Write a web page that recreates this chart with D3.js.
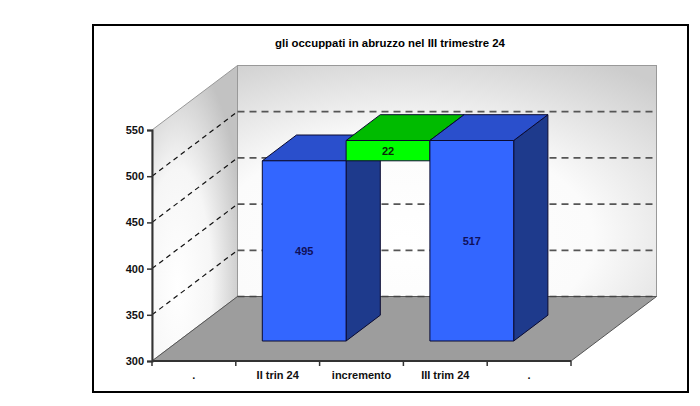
<!DOCTYPE html>
<html>
<head>
<meta charset="utf-8">
<script src="https://cdn.jsdelivr.net/npm/d3@7"></script>
<style>
  body { margin: 0; background: #fff; }
  text { font-family: "Liberation Sans", Arial, sans-serif; font-weight: bold; }
</style>
</head>
<body>
<div id="chart"></div>
<script>
// data
var title = "gli occuppati in abruzzo nel III trimestre 24";
var categories = [".", "II trin 24", "incremento", "III trim 24", "."];
var occupati = [null, 495, null, 517, null];      // blue bars
var baseHidden = [null, null, 495, null, null];   // invisible base of the floating bar
var incremento = [null, null, 22, null, null];    // green floating bar
var yTicks = [300, 350, 400, 450, 500, 550];
var gridValues = [350, 400, 450, 500];

var W = 700, H = 406;

// 3d projection: depth 0 = front plane, 1 = back wall
var DX = 85.5, DY = -64.5;
var barFront = 0.31, barBack = 0.71;

var svg = d3.select('#chart').append('svg')
    .attr('width', W)
    .attr('height', H);

var x = d3.scaleBand().domain(d3.range(categories.length)).range([152, 571]).padding(0);
var y = d3.scaleLinear().domain([300, 550]).range([361, 130]);

function p(px, py, d) {
    return [px + d * DX, py + d * DY];
}
function poly(pts) {
    return pts.map(function(q) { return q[0].toFixed(1) + ',' + q[1].toFixed(1); }).join(' ');
}

// gradients
var defs = svg.append('defs');
var bw = defs.append('radialGradient').attr('id', 'backWall')
    .attr('cx', '40%').attr('cy', '75%').attr('r', '90%');
bw.append('stop').attr('offset', '0%').attr('stop-color', '#ffffff');
bw.append('stop').attr('offset', '50%').attr('stop-color', '#fbfbfb');
bw.append('stop').attr('offset', '100%').attr('stop-color', '#cccccc');
var lw = defs.append('radialGradient').attr('id', 'leftWall')
    .attr('cx', '30%').attr('cy', '75%').attr('r', '80%');
lw.append('stop').attr('offset', '0%').attr('stop-color', '#ffffff');
lw.append('stop').attr('offset', '50%').attr('stop-color', '#f6f6f6');
lw.append('stop').attr('offset', '100%').attr('stop-color', '#c2c2c2');

// frame
svg.append('rect')
    .attr('x', 93).attr('y', 25).attr('width', 595).attr('height', 367)
    .attr('fill', '#fff').attr('stroke', '#000').attr('stroke-width', 2);

svg.append('text')
    .attr('x', 390).attr('y', 47)
    .attr('text-anchor', 'middle')
    .attr('font-size', 11.4)
    .text(title);

var x0 = x.range()[0], x1 = x.range()[1];
var yMin = y(300), yMax = y(550);

// back wall
var bTL = p(x0, yMax, 1), bBR = p(x1, yMin, 1);
svg.append('rect')
    .attr('x', bTL[0]).attr('y', bTL[1])
    .attr('width', bBR[0] - bTL[0]).attr('height', bBR[1] - bTL[1])
    .attr('fill', 'url(#backWall)')
    .attr('stroke', '#999').attr('stroke-width', 1);

// left wall
svg.append('polygon')
    .attr('points', poly([p(x0, yMin, 0), p(x0, yMax, 0), p(x0, yMax, 1), p(x0, yMin, 1)]))
    .attr('fill', 'url(#leftWall)')
    .attr('stroke', '#999').attr('stroke-width', 1);

// floor
svg.append('polygon')
    .attr('points', poly([p(x0, yMin, 0), p(x1, yMin, 0), p(x1, yMin, 1), p(x0, yMin, 1)]))
    .attr('fill', '#9d9d9d')
    .attr('stroke', '#555').attr('stroke-width', 1);

// gridlines on back wall
svg.append('g').selectAll('line')
    .data(gridValues.concat([550]))
    .enter().append('line')
    .attr('x1', x0 + DX).attr('x2', x1 + DX)
    .attr('y1', function(d) { return y(d) + DY; })
    .attr('y2', function(d) { return y(d) + DY; })
    .attr('stroke', function(d) { return d === 550 ? '#999' : '#555'; })
    .attr('stroke-width', function(d) { return d === 550 ? 1 : 1.8; })
    .attr('stroke-dasharray', '7,5');

svg.append('line')
    .attr('x1', x0 + DX).attr('x2', x1 + DX)
    .attr('y1', yMin + DY).attr('y2', yMin + DY)
    .attr('stroke', '#444').attr('stroke-width', 1.5)
    .attr('stroke-dasharray', '7,5');

// gridlines on left wall
svg.append('g').selectAll('line')
    .data(gridValues)
    .enter().append('line')
    .attr('x1', x0).attr('x2', x0 + DX)
    .attr('y1', function(d) { return y(d); })
    .attr('y2', function(d) { return y(d) + DY; })
    .attr('stroke', '#111').attr('stroke-width', 1.2)
    .attr('stroke-dasharray', '5,4');

// bars
function drawBox(g, i, v0, v1, cols) {
    var L = x(i), R = x(i) + x.bandwidth();
    var T = y(v1), B = y(v0);
    var front = [p(L, T, barFront), p(R, T, barFront), p(R, B, barFront), p(L, B, barFront)];
    var side = [p(R, T, barFront), p(R, T, barBack), p(R, B, barBack), p(R, B, barFront)];
    var top = [p(L, T, barFront), p(L, T, barBack), p(R, T, barBack), p(R, T, barFront)];
    g.append('polygon').attr('points', poly(side)).attr('fill', cols.side)
        .attr('stroke', '#0a0a30').attr('stroke-width', 1).attr('stroke-linejoin', 'round');
    g.append('polygon').attr('points', poly(top)).attr('fill', cols.top)
        .attr('stroke', '#0a0a30').attr('stroke-width', 1).attr('stroke-linejoin', 'round');
    g.append('polygon').attr('points', poly(front)).attr('fill', cols.front)
        .attr('stroke', '#0a0a30').attr('stroke-width', 1).attr('stroke-linejoin', 'round');
    return { cx: (L + R) / 2 + barFront * DX, cy: (T + B) / 2 + barFront * DY };
}

var blue = { front: '#3366ff', top: '#2a4fcc', side: '#1e3a8c' };
var green = { front: '#00ff00', top: '#00bb00', side: '#008800' };

var bars = svg.append('g');
categories.forEach(function(c, i) {
    if (occupati[i] != null) {
        var c1 = drawBox(bars, i, 300, occupati[i], blue);
        bars.append('text')
            .attr('x', c1.cx).attr('y', c1.cy).attr('dy', '0.35em')
            .attr('text-anchor', 'middle').attr('font-size', 11)
            .attr('fill', '#10105a')
            .text(occupati[i]);
    }
    if (incremento[i] != null) {
        var b = baseHidden[i];
        var c2 = drawBox(bars, i, b, b + incremento[i], green);
        bars.append('text')
            .attr('x', c2.cx).attr('y', c2.cy).attr('dy', '0.35em')
            .attr('text-anchor', 'middle').attr('font-size', 11)
            .attr('fill', '#0a2a0a')
            .text(incremento[i]);
    }
});

// axes
var yAxis = d3.axisLeft(y).tickValues(yTicks).tickSize(5).tickPadding(3);
var gy = svg.append('g').attr('transform', 'translate(' + x0 + ',0)').call(yAxis);
gy.select('.domain').attr('stroke', '#333').attr('stroke-width', 2);
gy.selectAll('.tick line').attr('stroke', '#333').attr('stroke-width', 1.5);
gy.selectAll('text').attr('font-size', 11).attr('fill', '#111')
    .attr('font-family', '"Liberation Sans", Arial, sans-serif').attr('font-weight', 'bold');

var xAxis = svg.append('g');
xAxis.append('line')
    .attr('x1', x0).attr('x2', x1).attr('y1', yMin).attr('y2', yMin)
    .attr('stroke', '#333').attr('stroke-width', 2);
xAxis.selectAll('line.tick')
    .data(d3.range(categories.length + 1))
    .enter().append('line').attr('class', 'tick')
    .attr('x1', function(i) { return x0 + i * x.bandwidth(); })
    .attr('x2', function(i) { return x0 + i * x.bandwidth(); })
    .attr('y1', yMin).attr('y2', yMin + 5)
    .attr('stroke', '#333').attr('stroke-width', 1.5);
xAxis.selectAll('text')
    .data(categories)
    .enter().append('text')
    .attr('x', function(d, i) { return x(i) + x.bandwidth() / 2; })
    .attr('y', 379)
    .attr('text-anchor', 'middle')
    .attr('font-size', 11)
    .attr('fill', '#111')
    .text(function(d) { return d; });
</script>
</body>
</html>
